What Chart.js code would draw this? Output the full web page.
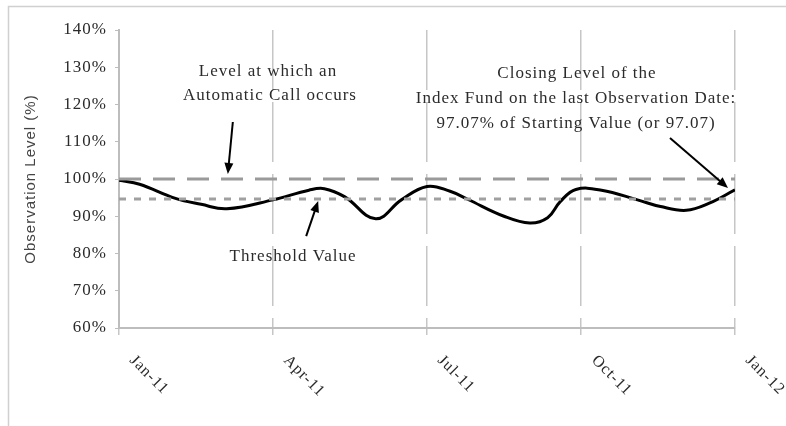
<!DOCTYPE html>
<html>
<head>
<meta charset="utf-8">
<script src="https://cdn.jsdelivr.net/npm/chart.js@4/dist/chart.umd.min.js"></script>
<style>
  html, body { margin: 0; padding: 0; background: #fff; }
  #wrap { width: 786px; height: 426px; position: relative; }
</style>
</head>
<body>
<div id="wrap"><canvas id="obs_chart" width="786" height="426"></canvas></div>
<script>
// values (x = months since Jan-11)
const tickMonths = [0, 3, 6, 9, 12];
const tickLabels = ['Jan-11', 'Apr-11', 'Jul-11', 'Oct-11', 'Jan-12'];
const obsMonths = [0, 0.4, 1.1, 1.6, 2.1, 3.0, 3.7, 4.0, 4.4, 5.0, 5.5, 6.0, 6.45, 6.8, 7.5, 8.0, 8.35, 8.6, 8.9, 9.4, 10.1, 10.55, 11.05, 11.5, 12];
const obsLevels = [99.7, 98.6, 94.8, 93.2, 92.0, 94.4, 97.0, 97.4, 95.2, 89.3, 94.4, 98.0, 96.7, 94.5, 90.0, 88.2, 89.6, 94.0, 97.2, 97.0, 94.4, 92.6, 91.6, 93.5, 97.07];
const callLevel = 100;
const thresholdLevel = 94.6;
const yTicks = [60, 70, 80, 90, 100, 110, 120, 130, 140];

const serif = '"Liberation Serif", "Times New Roman", serif';
const sans = '"Liberation Sans", Arial, sans-serif';
const textColor = '#2b2b2b';

function toPoints(xs, ys) {
  return xs.map((x, i) => ({ x: x, y: ys[i] }));
}

function arrow(ctx, x1, y1, x2, y2) {
  const ang = Math.atan2(y2 - y1, x2 - x1);
  const len = 11, half = 4.5;
  ctx.beginPath();
  ctx.moveTo(x1, y1);
  ctx.lineTo(x2 - Math.cos(ang) * len * 0.8, y2 - Math.sin(ang) * len * 0.8);
  ctx.stroke();
  ctx.beginPath();
  ctx.moveTo(x2, y2);
  ctx.lineTo(x2 - Math.cos(ang) * len - Math.sin(ang) * half, y2 - Math.sin(ang) * len + Math.cos(ang) * half);
  ctx.lineTo(x2 - Math.cos(ang) * len + Math.sin(ang) * half, y2 - Math.sin(ang) * len - Math.cos(ang) * half);
  ctx.closePath();
  ctx.fill();
}

const spacing = {
  id: 'spacing',
  beforeDraw(chart) {
    chart.ctx.letterSpacing = '1px';
  }
};

const notes = {
  id: 'notes',
  beforeDraw(chart) {
    const ctx = chart.ctx;
    ctx.save();
    ctx.strokeStyle = '#d0d0d0';
    ctx.lineWidth = 1.5;
    ctx.strokeRect(8.5, 6.5, 900, 600);
    ctx.restore();
  },
  afterDraw(chart) {
    const ctx = chart.ctx;
    const x = chart.scales.x, y = chart.scales.y;
    ctx.save();
    ctx.letterSpacing = '1px';
    ctx.fillStyle = textColor;
    ctx.font = '16px ' + serif;

    // x tick labels, turned 45 degrees clockwise
    tickMonths.forEach((m, i) => {
      const px = x.getPixelForValue(m);
      ctx.save();
      ctx.translate(px + 13, 358);
      ctx.rotate(Math.PI / 4);
      ctx.textAlign = 'left';
      ctx.textBaseline = 'middle';
      ctx.fillText(tickLabels[i], 0, 0);
      ctx.restore();
    });

    ctx.textAlign = 'center';
    ctx.textBaseline = 'middle';
    ctx.font = '17px ' + serif;
    ctx.fillText('Level at which an', 268, 72);
    ctx.fillText('Automatic Call occurs', 270, 96);
    ctx.fillText('Threshold Value', 293, 257);
    ctx.fillText('Closing Level of the', 577, 74);
    ctx.fillText('Index Fund on the last Observation Date:', 576, 99);
    ctx.fillText('97.07% of Starting Value (or 97.07)', 576, 124);

    ctx.strokeStyle = '#000';
    ctx.fillStyle = '#000';
    ctx.lineWidth = 2;
    let tx = x.getPixelForValue(2.12), ty = y.getPixelForValue(callLevel) - 5;
    arrow(ctx, tx + 5, ty - 52, tx, ty);
    tx = x.getPixelForValue(3.88); ty = y.getPixelForValue(thresholdLevel) + 2;
    arrow(ctx, tx - 12, ty + 35, tx, ty);
    tx = x.getPixelForValue(12) - 7; ty = y.getPixelForValue(obsLevels[obsLevels.length - 1]) - 2;
    arrow(ctx, tx - 58, ty - 50, tx, ty);
    ctx.restore();
  }
};

new Chart(document.getElementById('obs_chart').getContext('2d'), {
  type: 'line',
  data: {
    datasets: [{
      label: 'Automatic Call level',
      data: toPoints([0, 12], [callLevel, callLevel]),
      borderColor: '#9a9a9a',
      borderWidth: 3,
      borderDash: [22, 12],
      pointRadius: 0
    }, {
      label: 'Threshold Value',
      data: toPoints([0, 12], [thresholdLevel, thresholdLevel]),
      borderColor: '#a0a0a0',
      borderWidth: 3,
      borderDash: [7, 8],
      pointRadius: 0
    }, {
      label: 'Index Fund',
      data: toPoints(obsMonths, obsLevels),
      borderColor: '#000',
      borderWidth: 3,
      tension: 0.4,
      pointRadius: 0
    }]
  },
  options: {
    responsive: false,
    animation: false,
    layout: { padding: { left: 10, top: 30, right: 51, bottom: 0 } },
    plugins: { legend: { display: false }, tooltip: { enabled: false } },
    scales: {
      x: {
        type: 'linear',
        min: 0,
        max: 12,
        afterBuildTicks: (s) => { s.ticks = tickMonths.map(v => ({ value: v })); },
        afterFit: (s) => { s.height = 98; },
        ticks: { display: false },
        grid: { color: '#c6c6c6', lineWidth: 1.5, tickLength: 7 },
        border: { color: '#bdbdbd', width: 2, dash: [60, 12] }
      },
      y: {
        min: 60,
        max: 140,
        afterBuildTicks: (s) => { s.ticks = yTicks.map(v => ({ value: v })); },
        afterFit: (s) => { s.width = 109; },
        ticks: {
          color: textColor,
          padding: 8,
          font: { family: serif, size: 17 },
          callback: (v) => v + '%'
        },
        grid: { drawOnChartArea: false, color: '#bdbdbd', tickLength: 4 },
        border: { color: '#bdbdbd', width: 2 },
        title: {
          display: true,
          text: 'Observation Level (%)',
          color: '#444',
          font: { family: sans, size: 15 },
          padding: { top: 12, bottom: 0 }
        }
      }
    }
  },
  plugins: [spacing, notes]
});
</script>
</body>
</html>
